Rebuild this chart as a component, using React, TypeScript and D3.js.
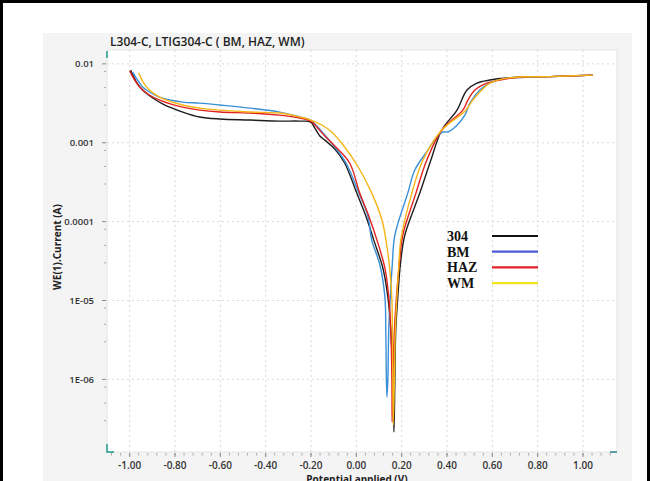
import * as d3 from 'd3';
import React, { useRef, useEffect } from 'react';

// tick values / labels
const xTicks = [-1.0, -0.8, -0.6, -0.4, -0.2, 0.0, 0.2, 0.4, 0.6, 0.8, 1.0];
const yTicks = [0.01, 0.001, 0.0001, 1e-5, 1e-6];
const yTickLabels = ['0.01', '0.001', '0.0001', '1E-05', '1E-06'];

const seriesNames = ['304', 'BM', 'HAZ', 'WM'];
const curveColors = ['#1e1e1e', '#3a90d8', '#e2231f', '#f5b517'];
const legendColors = ['#111111', '#4b5cd6', '#e4202a', '#f2e21a'];

// [potential (V), current (A)]
const curve304: [number, number][] = [
  [-0.996, 8.34e-3], [-0.970, 5.88e-3], [-0.943, 4.66e-3], [-0.898, 3.69e-3], [-0.853, 3.09e-3],
  [-0.766, 2.45e-3], [-0.691, 2.12e-3], [-0.602, 2.0e-3], [-0.470, 1.94e-3], [-0.338, 1.88e-3],
  [-0.249, 1.88e-3], [-0.201, 1.83e-3], [-0.183, 1.53e-3], [-0.161, 1.22e-3], [-0.139, 1.08e-3],
  [-0.095, 8.32e-4], [-0.051, 5.5e-4], [0.002, 2.3e-4], [0.042, 1.18e-4], [0.077, 5.83e-5],
  [0.117, 2.58e-5], [0.139, 1.11e-5], [0.152, 4.23e-6], [0.161, 9.8e-7], [0.166, 2.15e-7],
  [0.170, 9.8e-7], [0.174, 4.23e-6], [0.183, 1.11e-5], [0.195, 2.99e-5], [0.214, 6.76e-5],
  [0.280, 2.3e-4], [0.329, 6.04e-4], [0.377, 1.45e-3], [0.444, 2.59e-3], [0.488, 4.66e-3],
  [0.532, 5.71e-3], [0.589, 6.24e-3], [0.664, 6.61e-3], [0.854, 6.9e-3], [1.044, 7.21e-3],
];

const curveBM: [number, number][] = [
  [-0.987, 7.87e-3], [-0.965, 6.24e-3], [-0.943, 5.08e-3], [-0.913, 4.40e-3], [-0.868, 3.79e-3],
  [-0.766, 3.28e-3], [-0.691, 3.18e-3], [-0.602, 3.01e-3], [-0.470, 2.75e-3], [-0.338, 2.45e-3],
  [-0.249, 2.12e-3], [-0.201, 1.94e-3], [-0.170, 1.58e-3], [-0.139, 1.25e-3], [-0.095, 8.83e-4],
  [-0.042, 5.3e-4], [0.011, 2.3e-4], [0.051, 1.18e-4], [0.068, 5.83e-5], [0.104, 2.82e-5],
  [0.126, 1.11e-5], [0.130, 4.23e-6], [0.132, 1.31e-6], [0.135, 5.98e-7], [0.139, 9.8e-7],
  [0.143, 4.23e-6], [0.150, 1.11e-5], [0.159, 2.99e-5], [0.170, 6.76e-5], [0.227, 2.3e-4],
  [0.258, 4.51e-4], [0.316, 8.07e-4], [0.355, 1.18e-3], [0.382, 1.37e-3], [0.404, 1.37e-3],
  [0.444, 1.67e-3], [0.479, 2.24e-3], [0.501, 3.18e-3], [0.545, 4.66e-3], [0.589, 5.71e-3],
  [0.664, 6.61e-3], [0.854, 6.9e-3], [1.044, 7.21e-3],
];

const curveHAZ: [number, number][] = [
  [-1.000, 8.15e-3], [-0.978, 6.24e-3], [-0.956, 5.08e-3], [-0.913, 4.03e-3], [-0.868, 3.48e-3],
  [-0.766, 2.83e-3], [-0.691, 2.59e-3], [-0.602, 2.45e-3], [-0.470, 2.38e-3], [-0.338, 2.24e-3],
  [-0.249, 2.06e-3], [-0.201, 1.88e-3], [-0.170, 1.53e-3], [-0.139, 1.22e-3], [-0.086, 8.57e-4],
  [-0.029, 5.5e-4], [0.015, 2.3e-4], [0.055, 1.18e-4], [0.091, 5.83e-5], [0.126, 2.58e-5],
  [0.143, 1.11e-5], [0.152, 4.23e-6], [0.157, 9.8e-7], [0.158, 2.88e-7], [0.161, 9.8e-7],
  [0.168, 4.23e-6], [0.177, 1.11e-5], [0.190, 2.99e-5], [0.205, 6.76e-5], [0.263, 2.3e-4],
  [0.311, 6.04e-4], [0.377, 1.45e-3], [0.470, 2.59e-3], [0.492, 3.48e-3], [0.523, 4.66e-3],
  [0.576, 5.71e-3], [0.634, 6.24e-3], [0.722, 6.81e-3], [0.854, 6.9e-3], [1.044, 7.21e-3],
];

const curveWM: [number, number][] = [
  [-0.960, 7.64e-3], [-0.938, 5.71e-3], [-0.913, 4.66e-3], [-0.868, 3.79e-3], [-0.766, 3.01e-3],
  [-0.691, 2.75e-3], [-0.602, 2.59e-3], [-0.470, 2.45e-3], [-0.338, 2.38e-3], [-0.249, 2.12e-3],
  [-0.201, 1.94e-3], [-0.152, 1.68e-3], [-0.110, 1.38e-3], [-0.060, 9.5e-4], [0.007, 5.0e-4],
  [0.068, 2.3e-4], [0.113, 1.05e-4], [0.134, 5.05e-5], [0.148, 2.44e-5], [0.157, 1.01e-5],
  [0.159, 4.23e-6], [0.161, 9.8e-7], [0.163, 2.64e-7], [0.168, 9.8e-7], [0.172, 4.23e-6],
  [0.179, 1.11e-5], [0.188, 2.99e-5], [0.196, 5.83e-5], [0.245, 2.3e-4], [0.294, 6.04e-4],
  [0.377, 1.45e-3], [0.483, 2.59e-3], [0.514, 3.48e-3], [0.545, 4.40e-3], [0.589, 5.71e-3],
  [0.664, 6.61e-3], [0.854, 6.9e-3], [1.044, 7.21e-3],
];

const allCurves = [curve304, curveBM, curveHAZ, curveWM];

function PolarizationChart({ width, height }: { width: number; height: number }) {
  const ref = useRef<SVGSVGElement>(null);

  useEffect(() => {
    document.body.style.margin = '0';
    draw();
  }, []);

  const draw = () => {
    const svg = d3.select(ref.current);
    svg.selectAll('*').remove();

    const left = 107, right = 617, top = 50, bottom = 452;
    const font = "'Open Sans', 'Noto Sans', sans-serif";

    const x = d3.scaleLinear().domain([-1.1, 1.15]).range([left, right]);
    const y = d3.scaleLog().domain([1.2e-7, 0.015]).range([bottom, top]);

    svg.append('rect').attr('width', width).attr('height', height).attr('fill', '#ffffff');

    // grey panel + white plot area
    svg.append('rect').attr('x', 43).attr('y', 33).attr('width', 589).attr('height', 460).attr('fill', '#f4f4f4');
    svg.append('rect').attr('x', left).attr('y', top).attr('width', right - left).attr('height', bottom - top)
      .attr('fill', '#ffffff').attr('stroke', '#e4e4e4').attr('stroke-width', 1);

    // grid
    svg.append('g').selectAll('line').data(xTicks).enter().append('line')
      .attr('x1', d => x(d)).attr('x2', d => x(d)).attr('y1', top).attr('y2', bottom)
      .attr('stroke', '#d9d9d9').attr('stroke-dasharray', '2,3');
    svg.append('g').selectAll('line').data(yTicks).enter().append('line')
      .attr('x1', left).attr('x2', right).attr('y1', d => y(d)).attr('y2', d => y(d))
      .attr('stroke', '#d9d9d9').attr('stroke-dasharray', '2,3');

    // x ticks
    const xMinor = d3.range(-1.08, 1.13, 0.04);
    svg.append('g').selectAll('line').data(xMinor).enter().append('line')
      .attr('x1', d => x(d)).attr('x2', d => x(d)).attr('y1', bottom + 1).attr('y2', bottom + 3.5)
      .attr('stroke', '#a8a8a8');
    svg.append('g').selectAll('line').data(xTicks).enter().append('line')
      .attr('x1', d => x(d)).attr('x2', d => x(d)).attr('y1', bottom + 1).attr('y2', bottom + 5)
      .attr('stroke', '#8a8a8a');
    svg.append('g').selectAll('text').data(xTicks).enter().append('text')
      .attr('x', d => x(d)).attr('y', 469).attr('text-anchor', 'middle')
      .attr('font-family', font).attr('font-size', 10).attr('font-weight', 600).attr('fill', '#333')
      .text(d => d3.format('.2f')(d).replace('−', '-'));

    // y ticks
    const yMinor: number[] = [];
    [1e-7, 1e-6, 1e-5, 1e-4, 1e-3, 1e-2].forEach(dec => [3, 5, 8].forEach(m => {
      const v = dec * m;
      if (v > 1.2e-7 && v < 0.015) yMinor.push(v);
    }));
    svg.append('g').selectAll('line').data(yMinor).enter().append('line')
      .attr('x1', left - 3).attr('x2', left - 1).attr('y1', d => y(d)).attr('y2', d => y(d))
      .attr('stroke', '#a8a8a8');
    svg.append('g').selectAll('line').data(yTicks).enter().append('line')
      .attr('x1', left - 5).attr('x2', left - 1).attr('y1', d => y(d)).attr('y2', d => y(d))
      .attr('stroke', '#8a8a8a');
    svg.append('g').selectAll('text').data(yTicks).enter().append('text')
      .attr('x', 94).attr('y', d => y(d) + 3.5).attr('text-anchor', 'end')
      .attr('font-family', font).attr('font-size', 9.5).attr('font-weight', 600).attr('fill', '#333')
      .text((d, i) => yTickLabels[i]);

    // range handles
    const teal = '#1f9a8c';
    svg.append('line').attr('x1', left).attr('x2', left).attr('y1', top + 1).attr('y2', top + 8)
      .attr('stroke', teal).attr('stroke-width', 1.5);
    svg.append('path').attr('d', `M${left},${bottom - 8}V${bottom}H${left + 7}`)
      .attr('fill', 'none').attr('stroke', teal).attr('stroke-width', 1.5);
    svg.append('line').attr('x1', right - 7).attr('x2', right).attr('y1', bottom).attr('y2', bottom)
      .attr('stroke', '#2b7f95').attr('stroke-width', 1.5);

    // curves
    const line = d3.line<[number, number]>()
      .x(d => x(d[0]))
      .y(d => y(d[1]))
      .curve(d3.curveCatmullRom.alpha(0.5));

    svg.append('g').selectAll('path').data(allCurves).enter().append('path')
      .attr('d', d => line(d))
      .attr('fill', 'none')
      .attr('stroke', (d, i) => curveColors[i])
      .attr('stroke-width', 1.4)
      .attr('stroke-linejoin', 'round');

    // titles
    svg.append('text').attr('x', 110).attr('y', 46)
      .attr('font-family', font).attr('font-size', 12).attr('font-weight', 600).attr('fill', '#222')
      .text('L304-C, LTIG304-C ( BM, HAZ, WM)');
    svg.append('text').attr('transform', 'translate(61,247) rotate(-90)').attr('text-anchor', 'middle')
      .attr('font-family', font).attr('font-size', 10).attr('font-weight', 700).attr('fill', '#222')
      .text('WE(1).Current (A)');
    svg.append('text').attr('x', 357).attr('y', 483).attr('text-anchor', 'middle')
      .attr('font-family', font).attr('font-size', 10).attr('font-weight', 700).attr('fill', '#222')
      .text('Potential applied (V)');

    // legend
    const legend = svg.append('g').selectAll('g').data(seriesNames).enter().append('g')
      .attr('transform', (d, i) => `translate(447,${241 + i * 15.7})`);
    legend.append('text')
      .attr('font-family', "'Liberation Serif', 'Times New Roman', serif")
      .attr('font-size', 14).attr('font-weight', 700).attr('fill', '#111')
      .text(d => d);
    legend.append('line').attr('x1', 45).attr('x2', 91).attr('y1', -5).attr('y2', -5)
      .attr('stroke', (d, i) => legendColors[i]).attr('stroke-width', 2.2);

    // image frame
    svg.append('path').attr('d', `M1.5,${height}V1.5H${width - 1.5}V${height}`)
      .attr('fill', 'none').attr('stroke', '#000').attr('stroke-width', 3);
  };

  return (
    <svg ref={ref} width={width} height={height} style={{ display: 'block' }}></svg>
  );
}

export default function App() {
  return <PolarizationChart width={650} height={481} />;
}
